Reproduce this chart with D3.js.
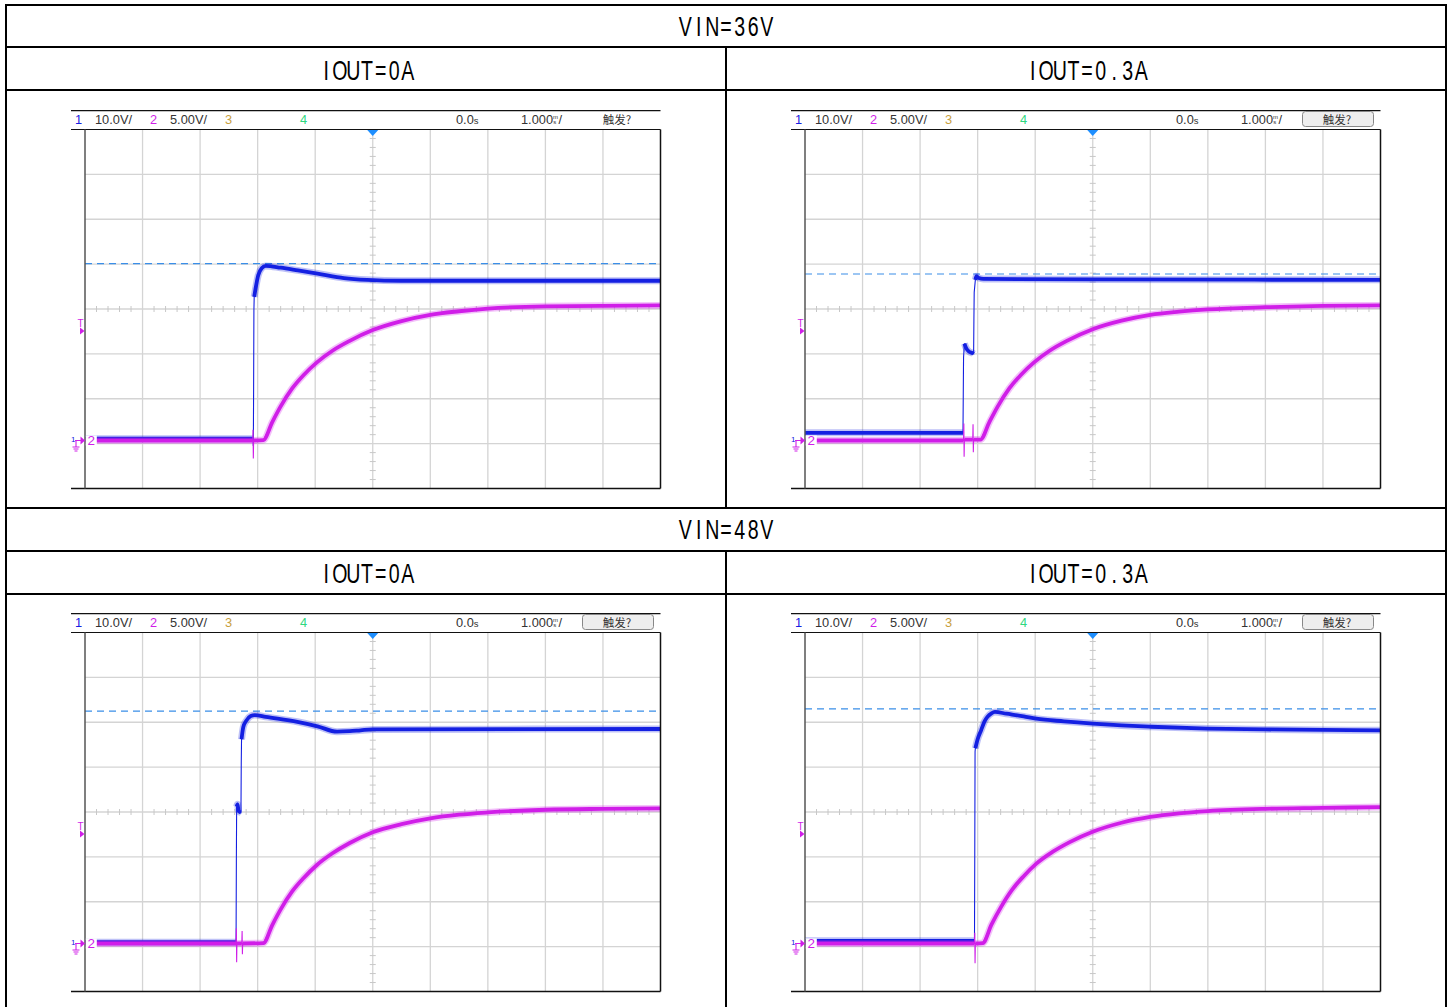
<!DOCTYPE html>
<html>
<head>
<meta charset="utf-8">
<script src="https://cdnjs.cloudflare.com/ajax/libs/d3/7.8.5/d3.min.js"></script>
<style>
	body { margin: 0; background: #fff; }
	.hdr { font-family: "Liberation Sans", Arial, sans-serif; font-size: 12.8px; fill: #333; }
	.title { font-family: "Liberation Sans", Arial, sans-serif; font-size: 28px; fill: #000; }
</style>
</head>
<body>
<div id="chart"></div>
<script>

var rowTitles = ["VIN=36V", "VIN=48V"];
var colTitles = ["IOUT=0A", "IOUT=0.3A"];

//header of every scope shot
var chanNames  = ["1", "2", "3", "4"];
var chanScales = ["10.0V/", "5.00V/", "", ""];
var timePos    = "0.0";
var timeBase   = "1.000";
var trigText   = "触发?";

//[time (s), volts] -- channel 1 = input (10V/div), channel 2 = output (5V/div)
var ch1_36V_0A = [[-5,0.4],[-2.08,0.4],[-2.075,-1.2],[-2.07,12],[-2.065,29],[-2.06,32],[-2.03,34.3],[-1.99,36.8],
	[-1.93,38.4],[-1.86,38.9],[-1.6,38.5],[-1.3,37.9],[-0.96,37.2],[-0.5,36.2],[-0.1,35.8],[0.5,35.6],[2,35.6],[5,35.6]];
var ch2_36V_0A = [[-5,0],[-2.085,0],[-2.08,1.2],[-2.075,-2.0],[-2.07,0],[-1.9,0.05],[-1.75,2.0],[-1.6,3.8],[-1.4,5.8],
	[-1.2,7.3],[-0.97,8.7],[-0.7,10.0],[-0.4,11.1],[0,12.3],[0.5,13.3],[1,14.0],[1.5,14.4],[2,14.7],[3,14.95],[4,15.0],[5,15.05]];

var ch1_36V_03A = [[-5,1.7],[-2.255,1.7],[-2.25,10],[-2.245,18.5],[-2.23,21.6],[-2.2,20.6],[-2.15,19.8],[-2.08,19.4],
	[-2.07,19.3],[-2.065,27],[-2.06,33],[-2.04,35.8],[-2.02,36.6],[-1.98,36.2],[-1.9,36.0],[0,35.9],[5,35.8]];
var ch2_36V_03A = [[-5,0],[-2.245,0],[-2.24,1.9],[-2.235,-1.8],[-2.23,0.1],[-2.085,0.1],[-2.08,1.8],[-2.075,-1.3],
	[-2.07,0.1],[-1.95,0.1],[-1.8,2.0],[-1.65,3.8],[-1.45,5.8],[-1.25,7.3],[-1.02,8.7],[-0.75,10.0],[-0.45,11.1],[0,12.4],
	[0.5,13.35],[1,14.0],[1.5,14.35],[2,14.6],[3,14.85],[4,15.0],[5,15.05]];

var ch1_48V_0A = [[-5,0.3],[-2.375,0.3],[-2.37,18],[-2.365,30.5],[-2.35,31],[-2.33,29.5],[-2.29,29.2],[-2.285,40],
	[-2.28,45.5],[-2.25,48.2],[-2.2,49.6],[-2.12,50.7],[-2.05,50.9],[-1.86,50.5],[-1.31,49.4],[-0.96,48.4],[-0.62,47.2],
	[-0.4,47.3],[-0.21,47.5],[0,47.7],[5,47.8]];
var ch2_48V_0A = [[-5,0],[-2.375,0],[-2.37,1.7],[-2.365,-2.1],[-2.36,0],[-2.275,0],[-2.27,1.4],[-2.265,-1.2],[-2.26,0],
	[-1.9,0.05],[-1.75,2.0],[-1.6,3.8],[-1.4,5.8],[-1.2,7.3],[-0.97,8.75],[-0.7,10.05],[-0.4,11.2],[0,12.4],[0.5,13.3],
	[1,13.95],[1.5,14.35],[2,14.6],[3,14.9],[4,15.0],[5,15.05]];

var ch1_48V_03A = [[-5,0.6],[-2.055,0.6],[-2.05,20],[-2.045,42.7],[-2.04,43.5],[-2.0,45.5],[-1.94,47.5],[-1.88,49.5],
	[-1.83,50.5],[-1.76,51.3],[-1.7,51.6],[-1.5,51.2],[-1.2,50.6],[-0.98,50.1],[-0.5,49.5],[0,49.0],[0.5,48.6],
	[1.01,48.3],[2,47.9],[3,47.7],[5,47.5]];
var ch2_48V_03A = [[-5,0],[-2.055,0],[-2.05,1.2],[-2.045,-2.2],[-2.04,0],[-1.91,0.05],[-1.76,2.1],[-1.6,4.0],[-1.4,6.0],
	[-1.2,7.5],[-0.98,8.9],[-0.7,10.2],[-0.4,11.3],[0,12.45],[0.5,13.45],[1,14.1],[1.5,14.5],[2,14.75],[3,15.0],[4,15.1],[5,15.2]];

//dashed cursor level on channel 1 (V) and trigger level on channel 2 (V)
var cursorLevels = [39.4, 37.1, 51.8, 52.3];
var triggerLevel = 12.2;
var hasTrigButton = [false, true, true, true];

//--------------------------------- Set up svg ---------------------------------------

var W = 1455, H = 1007;
var svg = d3.select("#chart").append("svg")
	.attr("width", W)
	.attr("height", H);

var blue = "#1420e2", magenta = "#d01ee8";

//time scale, 1s/div, 10 div
var x = d3.scaleLinear().domain([-5, 5]).range([85, 660.5]);
//8 vertical divisions, ground 1.07 div above the bottom
var top0 = 129.5, bot0 = 488.5;
var y1 = d3.scaleLinear().domain([-10.7, 69.3]).range([bot0, top0]);
var y2 = d3.scaleLinear().domain([-5.35, 34.65]).range([bot0, top0]);

//---------------------------------------- Table ----------------------------------------

var table = svg.append("g").attr("class", "table");
var rowLines = [47, 90, 508, 551, 594];
table.append("rect")
	.attr("x", 6).attr("y", 5)
	.attr("width", 1440).attr("height", 1030)
	.attr("fill", "none").attr("stroke", "#000").attr("stroke-width", 2);
table.selectAll(".rowLine").data(rowLines).enter().append("line")
	.attr("x1", 6).attr("x2", 1446)
	.attr("y1", function(d) { return d; }).attr("y2", function(d) { return d; })
	.attr("stroke", "#000").attr("stroke-width", 2);
[[47, 508], [551, 1010]].forEach(function(r) {
	table.append("line")
		.attr("x1", 726).attr("x2", 726).attr("y1", r[0]).attr("y2", r[1])
		.attr("stroke", "#000").attr("stroke-width", 2);
});

//titles are set on a fixed-width grid with narrow glyphs, like the original
function title(txt, cx, base) {
	var cell = 13.6, chars = txt.split("");
	var x0 = cx - chars.length * cell / 2 + cell / 2;
	var t = table.append("g").attr("class", "title");
	chars.forEach(function(c, i) {
		t.append("text")
			.attr("transform", "translate(" + (x0 + i * cell) + "," + base + ") scale(0.7,1)")
			.attr("text-anchor", "middle")
			.text(c);
	});
}
rowTitles.forEach(function(t, i) {
	var off = i * 503;
	title(t, 726, 36 + off);
	colTitles.forEach(function(c, j) { title(c, 367 + j * 720, 79.5 + off); });
});

//---------------------------------------- Scope panels ----------------------------------------

var panels = [
	{ch1: ch1_36V_0A,  ch2: ch2_36V_0A},
	{ch1: ch1_36V_03A, ch2: ch2_36V_03A},
	{ch1: ch1_48V_0A,  ch2: ch2_48V_0A},
	{ch1: ch1_48V_03A, ch2: ch2_48V_03A}
];

svg.append("defs").append("clipPath").attr("id", "plotClip")
	.append("rect").attr("x", x(-5)).attr("y", top0).attr("width", x(5) - x(-5)).attr("height", bot0 - top0);

function drawTrace(g, data, y, color) {
	var pts = data.map(function(d) { return [x(d[0]), y(d[1])]; });
	//fast edges stay thin, slow parts get the thick noisy look
	g.append("path")
		.attr("d", d3.line()(pts))
		.attr("fill", "none").attr("stroke", color).attr("stroke-width", 1.1);
	var runs = [], run = [pts[0]];
	for (var i = 1; i < pts.length; i++) {
		var dx = Math.abs(pts[i][0] - pts[i-1][0]), dy = Math.abs(pts[i][1] - pts[i-1][1]);
		if (dy > 10 * Math.max(dx, 0.01)) {
			if (run.length > 1) runs.push(run);
			run = [pts[i]];
		} else run.push(pts[i]);
	}
	if (run.length > 1) runs.push(run);
	var line = d3.line().curve(d3.curveMonotoneX);
	runs.forEach(function(r) {
		g.append("path").attr("d", line(r))
			.attr("fill", "none").attr("stroke", color).attr("stroke-width", 7)
			.attr("stroke-opacity", 0.28).attr("stroke-linejoin", "round");
		g.append("path").attr("d", line(r))
			.attr("fill", "none").attr("stroke", color).attr("stroke-width", 3.8)
			.attr("stroke-linejoin", "round");
	});
}

panels.forEach(function(p, k) {
	var col = k % 2, row = Math.floor(k / 2);
	var g = svg.append("g").attr("transform", "translate(" + (col * 720) + "," + (row * 503) + ")");
	var left = 71, right = x(5);

	//grid
	var grid = g.append("g");
	grid.selectAll(".vgrid").data(d3.range(-4, 5)).enter().append("line")
		.attr("x1", function(d) { return x(d); }).attr("x2", function(d) { return x(d); })
		.attr("y1", top0).attr("y2", bot0)
		.attr("stroke", "#d4d4d4").attr("stroke-width", 1.3);
	grid.selectAll(".hgrid").data(d3.range(1, 8)).enter().append("line")
		.attr("x1", x(-5)).attr("x2", right)
		.attr("y1", function(d) { return y1(-10.7 + d * 10); }).attr("y2", function(d) { return y1(-10.7 + d * 10); })
		.attr("stroke", "#d4d4d4").attr("stroke-width", 1.3);
	//minor ticks on the centre axes
	var cy = y1(29.3);
	grid.selectAll(".xtick").data(d3.range(-49, 50).filter(function(d) { return d % 10 !== 0 && d % 2 === 0; })).enter().append("line")
		.attr("x1", function(d) { return x(d / 10); }).attr("x2", function(d) { return x(d / 10); })
		.attr("y1", cy - 3).attr("y2", cy + 3)
		.attr("stroke", "#c8c8c8").attr("stroke-width", 1);
	grid.selectAll(".ytick").data(d3.range(1, 40).filter(function(d) { return d % 5 !== 0; })).enter().append("line")
		.attr("x1", x(0) - 3).attr("x2", x(0) + 3)
		.attr("y1", function(d) { return y1(-10.7 + d * 2); }).attr("y2", function(d) { return y1(-10.7 + d * 2); })
		.attr("stroke", "#c8c8c8").attr("stroke-width", 1);

	//cursor dashed line
	g.append("line")
		.attr("x1", x(-5)).attr("x2", right)
		.attr("y1", y1(cursorLevels[k])).attr("y2", y1(cursorLevels[k]))
		.attr("stroke", "#3a8ee8").attr("stroke-width", 1.2).attr("stroke-dasharray", "7,5");

	//traces
	var tr = g.append("g").attr("clip-path", "url(#plotClip)");
	drawTrace(tr, p.ch1, y1, blue);
	drawTrace(tr, p.ch2, y2, magenta);

	//frame
	g.append("line").attr("x1", left).attr("x2", right).attr("y1", 110.7).attr("y2", 110.7)
		.attr("stroke", "#111").attr("stroke-width", 1.2);
	g.append("line").attr("x1", left).attr("x2", right).attr("y1", top0).attr("y2", top0)
		.attr("stroke", "#111").attr("stroke-width", 1.2);
	g.append("line").attr("x1", left).attr("x2", right).attr("y1", bot0).attr("y2", bot0)
		.attr("stroke", "#111").attr("stroke-width", 1.5);
	g.append("line").attr("x1", x(-5)).attr("x2", x(-5)).attr("y1", top0).attr("y2", bot0)
		.attr("stroke", "#555").attr("stroke-width", 1.5);
	g.append("line").attr("x1", right).attr("x2", right).attr("y1", top0).attr("y2", bot0)
		.attr("stroke", "#111").attr("stroke-width", 1.5);

	//trigger position marker
	g.append("path")
		.attr("d", "M" + (x(0) - 5.5) + "," + (top0 + 0.5) + "L" + (x(0) + 5.5) + "," + (top0 + 0.5) + "L" + x(0) + "," + (top0 + 6.5) + "Z")
		.attr("fill", "#1e8fff");

	//trigger level marker
	var ty = y2(triggerLevel);
	g.append("text").attr("x", 80.5).attr("y", ty - 4).attr("text-anchor", "middle")
		.style("font-family", "Liberation Sans, sans-serif").style("font-size", "10px").style("fill", magenta).text("T");
	g.append("path").attr("d", "M80," + (ty - 3.5) + "L84.5," + ty + "L80," + (ty + 3.5) + "Z").attr("fill", magenta);

	//ground markers
	var gy = y1(0);
	g.append("rect").attr("x", 85.8).attr("y", gy - 5).attr("width", 11).attr("height", 10).attr("fill", "#fff");
	g.append("text").attr("x", 71).attr("y", gy + 2)
		.style("font-family", "Liberation Sans, sans-serif").style("font-size", "8px").style("fill", blue).text("1");
	g.append("path")
		.attr("d", "M75,0L81,0M76,0L76,6M72.5,6.5L79.5,6.5M73.5,8.5L78.5,8.5M74.5,10.5L77.5,10.5")
		.attr("transform", "translate(0," + gy + ")")
		.attr("fill", "none").attr("stroke", magenta).attr("stroke-width", 1.1);
	g.append("path").attr("d", "M80.5," + (gy - 4) + "L85," + gy + "L80.5," + (gy + 4) + "Z").attr("fill", magenta);
	g.append("text").attr("x", 87.5).attr("y", gy + 5)
		.style("font-family", "Liberation Sans, sans-serif").style("font-size", "13.5px").style("fill", magenta).text("2");

	//header
	var hy = 124;
	var hdr = g.append("g").attr("class", "hdr");
	var chanColors = [blue, magenta, "#c8a040", "#30d880"];
	var chanX = [75, 150, 225, 300];
	chanNames.forEach(function(c, i) {
		hdr.append("text").attr("x", chanX[i]).attr("y", hy).style("fill", chanColors[i]).text(c);
		if (chanScales[i]) hdr.append("text").attr("x", chanX[i] + 20).attr("y", hy).text(chanScales[i]);
	});
	var tp = hdr.append("text").attr("x", 456).attr("y", hy).text(timePos);
	tp.append("tspan").style("font-size", "9.5px").text("s");
	hdr.append("text").attr("x", 521).attr("y", hy).text(timeBase);
	hdr.append("text").attr("x", 553).attr("y", hy - 5).style("font-size", "6px").text("m");
	hdr.append("text").attr("x", 553.3).attr("y", hy).style("font-size", "6px").text("s");
	hdr.append("text").attr("x", 558.5).attr("y", hy).text("/");
	if (hasTrigButton[k]) {
		hdr.append("rect").attr("x", 582.5).attr("y", 111.5).attr("width", 71).attr("height", 15).attr("rx", 3)
			.attr("fill", "#eeeeee").attr("stroke", "#888").attr("stroke-width", 1);
	}
	hdr.append("text").attr("x", 617).attr("y", hy).attr("text-anchor", "middle")
		.style("font-family", "Noto Sans CJK SC, sans-serif").style("font-size", "11.5px").text(trigText);
});

</script>
</body>
</html>
